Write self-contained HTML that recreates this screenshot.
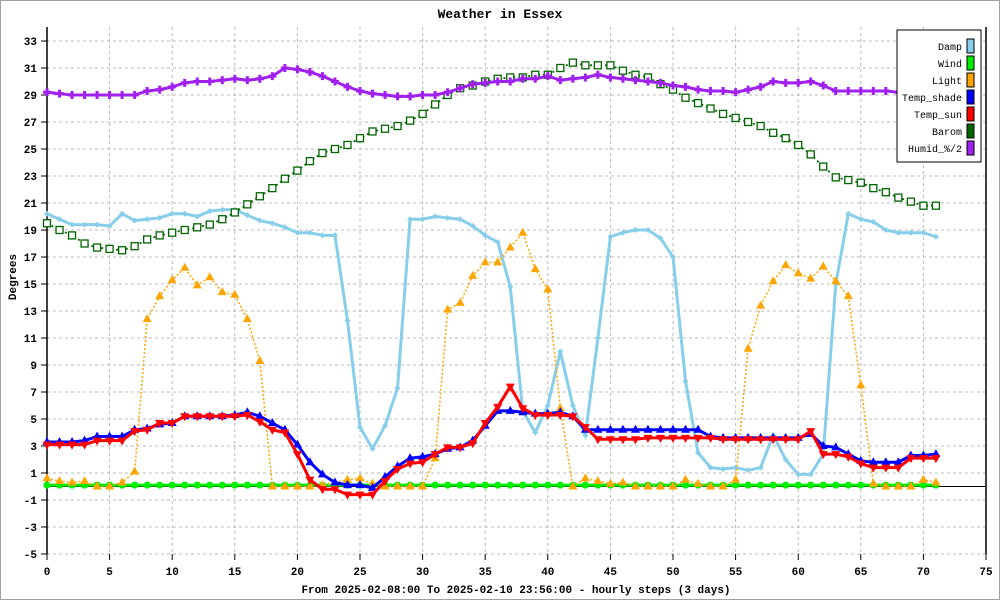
<!DOCTYPE html>
<html><head><meta charset="utf-8"><style>
body{margin:0;background:#fff}
svg{display:block;font-family:"Liberation Mono",monospace;font-weight:bold}
</style></head><body>
<svg id="c" width="1000" height="600">
<rect x="0.5" y="0.5" width="999" height="599" fill="#fff" stroke="#a0a0a0"/>
<text x="500" y="18" text-anchor="middle" font-size="13">Weather in Essex</text>
<text transform="translate(16,277) rotate(-90)" text-anchor="middle" font-size="11">Degrees</text>
<text x="516" y="593" text-anchor="middle" font-size="11">From 2025-02-08:00 To 2025-02-10 23:56:00 - hourly steps (3 days)</text>
<g id="grid"></g><g id="series"></g><g id="legend"></g>
</svg>
<script>
const hours=Array.from({length:72},(_,i)=>i);
const yTicks=[-5,-3,-1,1,3,5,7,9,11,13,15,17,19,21,23,25,27,29,31,33];
const xTicks=[0,5,10,15,20,25,30,35,40,45,50,55,60,65,70,75];
const damp=[20.2,19.8,19.4,19.4,19.4,19.3,20.2,19.7,19.8,19.9,20.2,20.2,20.0,20.4,20.5,20.5,20.1,19.7,19.5,19.2,18.8,18.8,18.6,18.6,12.3,4.4,2.8,4.5,7.3,19.8,19.8,20.0,19.9,19.8,19.3,18.6,18.1,14.8,5.6,4.0,6.0,10.0,6.0,3.8,11.0,18.5,18.8,19.0,19.0,18.4,17.0,7.8,2.5,1.4,1.3,1.4,1.2,1.4,3.8,2.0,0.9,0.9,2.4,15.0,20.2,19.8,19.6,19.0,18.8,18.8,18.8,18.5];
const wind=Array(72).fill(0.1);
const light=[0.6,0.4,0.3,0.4,0,0,0.3,1.1,12.4,14.1,15.3,16.2,14.9,15.5,14.4,14.2,12.4,9.3,0,0,0,0,0.1,0.3,0.5,0.6,0.2,0,0,0,0,2.1,13.1,13.6,15.6,16.6,16.6,17.7,18.8,16.1,14.6,5.8,0,0.6,0.4,0.2,0.3,0,0,0,0,0.5,0.2,0,0,0.5,10.2,13.4,15.2,16.4,15.8,15.4,16.3,15.2,14.1,7.5,0.2,0,0,0,0.5,0.3];
const tempShade=[3.3,3.3,3.3,3.4,3.7,3.7,3.7,4.2,4.3,4.6,4.7,5.2,5.2,5.2,5.2,5.3,5.5,5.2,4.7,4.2,3.1,1.8,0.9,0.3,0.1,0.1,-0.1,0.7,1.5,2.1,2.2,2.4,2.8,2.9,3.4,4.5,5.6,5.6,5.5,5.4,5.4,5.5,5.2,4.2,4.2,4.2,4.2,4.2,4.2,4.2,4.2,4.2,4.2,3.7,3.6,3.6,3.6,3.6,3.6,3.6,3.6,3.9,3.0,2.9,2.4,1.9,1.8,1.8,1.8,2.3,2.3,2.4];
const tempSun=[3.1,3.1,3.1,3.1,3.4,3.4,3.4,4.1,4.2,4.7,4.7,5.2,5.2,5.2,5.2,5.2,5.3,4.8,4.2,4.0,2.4,0.5,-0.2,-0.2,-0.6,-0.6,-0.6,0.4,1.3,1.7,1.8,2.4,2.9,2.9,3.2,4.7,5.9,7.4,5.8,5.3,5.3,5.3,5.2,4.4,3.5,3.5,3.5,3.5,3.6,3.6,3.6,3.6,3.6,3.6,3.5,3.5,3.5,3.5,3.5,3.5,3.5,4.1,2.4,2.4,2.2,1.7,1.4,1.4,1.4,2.1,2.1,2.1];
const barom=[19.5,19.0,18.6,18.0,17.7,17.6,17.5,17.8,18.3,18.6,18.8,19.0,19.2,19.4,19.8,20.3,20.9,21.5,22.1,22.8,23.4,24.1,24.7,25.0,25.3,25.8,26.3,26.5,26.7,27.1,27.6,28.3,29.0,29.5,29.7,30.0,30.2,30.3,30.3,30.5,30.5,31.0,31.4,31.2,31.2,31.2,30.8,30.5,30.3,29.8,29.4,28.8,28.4,28.0,27.6,27.3,27.0,26.7,26.2,25.8,25.3,24.6,23.7,22.9,22.7,22.5,22.1,21.8,21.4,21.1,20.8,20.8];
const humid=[29.2,29.1,29.0,29.0,29.0,29.0,29.0,29.0,29.3,29.4,29.6,29.9,30.0,30.0,30.1,30.2,30.1,30.2,30.4,31.0,30.9,30.7,30.4,30.0,29.6,29.3,29.1,29.0,28.9,28.9,29.0,29.0,29.2,29.5,29.8,29.9,30.0,30.0,30.2,30.2,30.4,30.1,30.2,30.3,30.5,30.3,30.2,30.1,30.0,29.9,29.7,29.6,29.4,29.3,29.3,29.2,29.4,29.6,30.0,29.9,29.9,30.0,29.7,29.3,29.3,29.3,29.3,29.3,29.2,29.0,28.8,28.8];

const NS='http://www.w3.org/2000/svg';
const X=h=>47+h*12.52;
const Y=v=>486.5-v*13.5;
function mk(tag,at,parent){const e=document.createElementNS(NS,tag);for(const k in at)e.setAttribute(k,at[k]);parent.appendChild(e);return e;}
const grid=document.getElementById('grid'),ser=document.getElementById('series'),leg=document.getElementById('legend');

yTicks.forEach(t=>{
  const l=mk('line',{x1:47,x2:986,y1:Y(t),y2:Y(t),stroke:'#bbb','stroke-dasharray':'3,3'},grid);
  
  
  const tk=mk('line',{x1:41,x2:47,y1:Y(t),y2:Y(t),stroke:'#000'},grid);
  
  
  const tx=mk('text',{x:37,y:Y(t)+4,'text-anchor':'end','font-size':'11'},grid);
  tx.textContent=t;
  
  
});
xTicks.forEach(t=>{
  const l=mk('line',{x1:X(t),x2:X(t),y1:27,y2:554,stroke:'#bbb','stroke-dasharray':'3,3'},grid);
  
  
  const tk=mk('line',{x1:X(t),x2:X(t),y1:554,y2:560,stroke:'#000'},grid);
  
  
  const tx=mk('text',{x:X(t),y:575,'text-anchor':'middle','font-size':'11'},grid);
  tx.textContent=t;
  
  
});
const ax=mk('line',{x1:47,x2:47,y1:27,y2:554,stroke:'#000','stroke-width':1.5},grid);


const ax2=mk('line',{x1:986,x2:986,y1:27,y2:554,stroke:'#000','stroke-width':1.5},grid);


const zl=mk('line',{x1:47,x2:986,y1:Y(0),y2:Y(0),stroke:'#000'},grid);



function marker(g,type,x,y,c){
  let e;
  if(type==='circle')e=mk('circle',{cx:x,cy:y,r:3.5,fill:c},g);
  else if(type==='tri')e=mk('path',{d:`M${x},${y-5}L${x+4.5},${y+3}L${x-4.5},${y+3}Z`,fill:c},g);
  else if(type==='dtri')e=mk('path',{d:`M${x},${y+5}L${x+4.5},${y-3}L${x-4.5},${y-3}Z`,fill:c},g);
  else if(type==='sq')e=mk('rect',{x:x-3.5,y:y-3.5,width:7,height:7,fill:'#fff',stroke:c,'stroke-width':1.3},g);
  else if(type==='plus')e=mk('path',{d:`M${x-4},${y}H${x+4}M${x},${y-4}V${y+4}`,stroke:c,'stroke-width':3},g);
  else e=mk('path',{d:`M${x-3},${y}L${x},${y-3}L${x+3},${y}L${x},${y+3}Z`,fill:c},g);
  
  
}
const seriesDefs=[
 ['damp',damp,'#87ceeb',3,null,'dia'],
 ['wind',wind,'#00ee00',3,null,'circle'],
 ['light',light,'#ffa500',1.5,'2,2','tri'],
 ['temp-shade',tempShade,'#0000ff',3,null,'tri'],
 ['temp-sun',tempSun,'#ff0000',3,null,'dtri'],
 ['barom',barom,'#006400',1.8,'2,3','sq'],
 ['humid',humid,'#a020f0',3,null,'plus']
];
seriesDefs.forEach(([name,vals,c,w,dash,m])=>{
  const g=mk('g',{},ser);
  
  
  const pts=vals.map((v,i)=>X(hours[i])+','+Y(v)).join(' ');
  const pl=mk('polyline',{points:pts,fill:'none',stroke:c,'stroke-width':w},g);
  if(dash)pl.setAttribute('stroke-dasharray',dash);
  
  
  vals.forEach((v,i)=>marker(g,m,X(hours[i]),Y(v),c));
});

const legNames=['Damp','Wind','Light','Temp_shade','Temp_sun','Barom','Humid_%/2'];
const legCols=['#87ceeb','#00ee00','#ffa500','#0000ff','#ff0000','#006400','#a020f0'];
const box=mk('rect',{x:897,y:30,width:84,height:132,fill:'#fff',stroke:'#000','stroke-width':1},leg);


legNames.forEach((n,i)=>{
  const y=46+i*17;
  const t=mk('text',{x:962,y:y+4,'text-anchor':'end','font-size':'10','font-weight':'normal'},leg);
  t.textContent=n;
  
  
  const s=mk('rect',{x:967,y:y-7,width:7,height:14,fill:legCols[i],stroke:'#000'},leg);
  
  
});
</script>
</body></html>
